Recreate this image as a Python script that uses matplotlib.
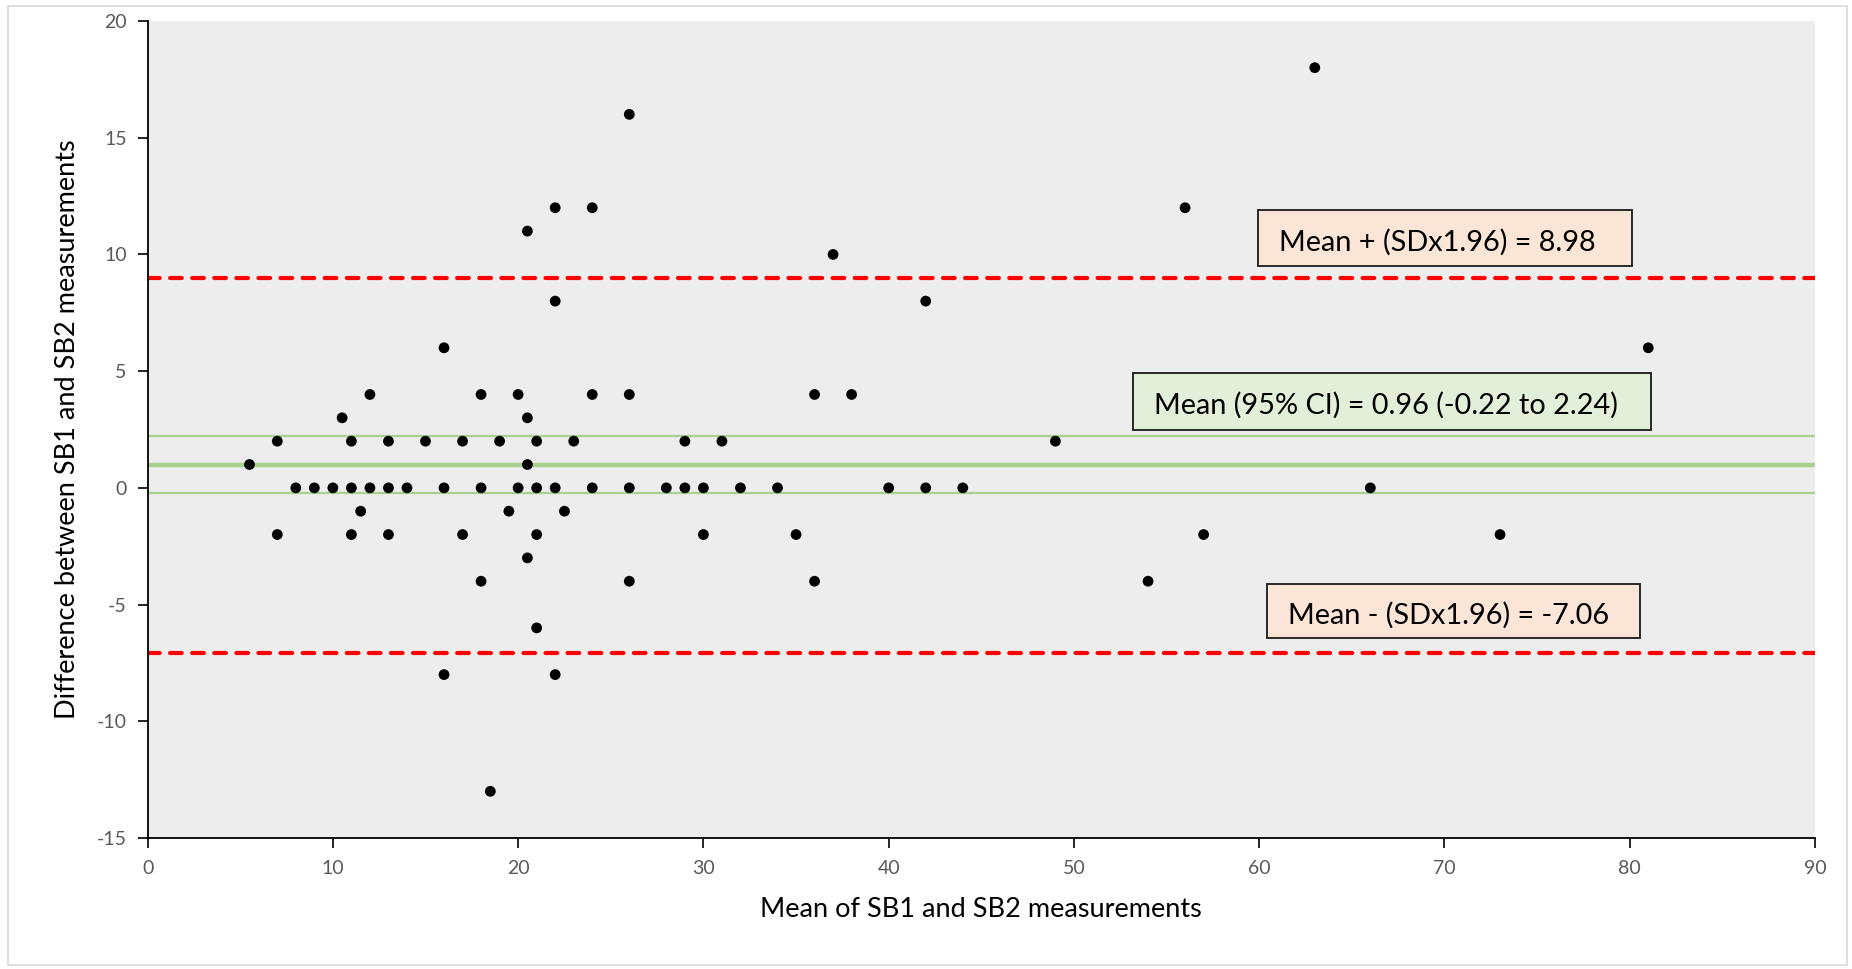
import matplotlib
matplotlib.use("Agg")
import matplotlib.pyplot as plt
from matplotlib.patches import Rectangle

plt.rcParams['font.family'] = ['Lato', 'DejaVu Sans']
plt.rcParams['axes.unicode_minus'] = False

# Data: mean of SB1 & SB2 (x) and difference (y)
mean_vals = [5.5, 7, 7, 8, 9, 10, 10.5, 11, 11, 11, 11.5, 12, 12, 13, 13, 13, 14, 15,
             16, 16, 16, 17, 17, 18, 18, 18, 18.5, 19, 19.5, 20, 20, 20.5, 20.5, 20.5, 20.5,
             21, 21, 21, 21, 22, 22, 22, 22, 22.5, 23, 24, 24, 24, 26, 26, 26, 26,
             28, 29, 29, 30, 30, 31, 32, 34, 35, 36, 36, 37, 38, 40, 42, 42, 44,
             49, 54, 56, 57, 63, 66, 73, 81]
diff_vals = [1, 2, -2, 0, 0, 0, 3, 2, 0, -2, -1, 4, 0, 2, 0, -2, 0, 2,
             6, 0, -8, 2, -2, 4, 0, -4, -13, 2, -1, 4, 0, 11, 3, 1, -3,
             2, 0, -2, -6, 12, 8, 0, -8, -1, 2, 12, 4, 0, 16, 4, 0, -4,
             0, 2, 0, 0, -2, 2, 0, 0, -2, 4, -4, 10, 4, 0, 8, 0, 0,
             2, -4, 12, -2, 18, 0, -2, 6]

mean_diff = 0.96
ci_low, ci_high = -0.22, 2.24
loa_upper, loa_lower = 8.98, -7.06

x_ticks = [0, 10, 20, 30, 40, 50, 60, 70, 80, 90]
y_ticks = [-15, -10, -5, 0, 5, 10, 15, 20]

label_upper = "Mean + (SDx1.96) = 8.98"
label_mean = "Mean (95% CI) = 0.96 (-0.22 to 2.24)"
label_lower = "Mean - (SDx1.96) = -7.06"

W, H = 1852, 969
fig = plt.figure(figsize=(W / 100, H / 100), dpi=100)
ax = fig.add_axes([147.6 / W, 1 - 838 / H, (1815 - 147.6) / W, (838 - 21) / H])
ax.set_facecolor('#EDEDED')

# figure border
fig.patches.append(Rectangle((8 / W, 4 / H), 1 - 13 / W, 1 - 10 / H, transform=fig.transFigure,
                             fill=False, edgecolor='#D9D9D9', linewidth=1.2))

ax.set_xlim(0, 90)
ax.set_ylim(-15, 20)

# reference lines
ax.axhline(ci_high, color='#A9D18E', linewidth=1.6, zorder=2)
ax.axhline(ci_low, color='#A9D18E', linewidth=1.6, zorder=2)
ax.axhline(mean_diff, color='#A9D18E', linewidth=3.2, zorder=2)
for v in (loa_upper, loa_lower):
    ax.axhline(v, color='#FF0000', linewidth=3.0, linestyle=(0, (2.8, 2.5)),
               dash_capstyle='round', zorder=2)

ax.scatter(mean_vals, diff_vals, s=60, color='black', zorder=4, edgecolors='none')

# annotation boxes (axes-fraction positions)
def box(x0, x1, y0, y1, fc, text):
    ax.add_patch(Rectangle((x0, y0), x1 - x0, y1 - y0, transform=ax.transAxes,
                           facecolor=fc, edgecolor='#1a1a1a', linewidth=1.3, zorder=5))
    ax.text(x0 + 21 / 1667.4, (y0 + y1) / 2 - 4 / 817, text, transform=ax.transAxes,
            ha='left', va='center', fontsize=20.8, color='black', zorder=6)

box(0.666, 0.890, 0.700, 0.7687, '#FBE5D6', label_upper)
box(0.591, 0.9017, 0.4994, 0.569, '#E2F0D9', label_mean)
box(0.6713, 0.8951, 0.2448, 0.3109, '#FBE5D6', label_lower)

ax.set_xticks(x_ticks)
ax.set_yticks(y_ticks)
ax.tick_params(axis='both', direction='out', length=7, width=1.2, color='black',
               labelcolor='#595959', labelsize=14)
ax.tick_params(axis='x', pad=9)
ax.tick_params(axis='y', pad=8)

for s in ('top', 'right'):
    ax.spines[s].set_visible(False)
for s in ('left', 'bottom'):
    ax.spines[s].set_color('black')
    ax.spines[s].set_linewidth(1.3)

ax.set_xlabel("Mean of SB1 and SB2 measurements", fontsize=19.5, color='black', labelpad=14)
ax.set_ylabel("Difference between SB1 and SB2 measurements", fontsize=19.5, color='black', labelpad=12)

fig.savefig("out.png", dpi=100, facecolor='white')
